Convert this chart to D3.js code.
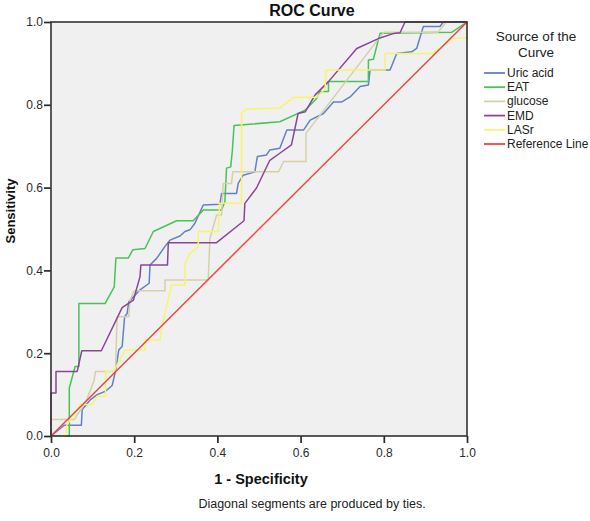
<!DOCTYPE html>
<html><head><meta charset="utf-8">
<script src="https://cdn.jsdelivr.net/npm/d3@7"></script>
<style>body{margin:0;background:#fff;} text{font-family:Arial,"Liberation Sans",sans-serif;}</style>
</head><body><svg id="c" width="590" height="521"></svg>
<script>
// ---- data (1 - specificity, sensitivity) ----
const axisTicks = [0, 0.2, 0.4, 0.6, 0.8, 1.0];
const uricAcid = [[0,0],[0.032,0.026],[0.073,0.026],[0.075,0.064],[0.095,0.088],[0.111,0.100],[0.131,0.108],[0.147,0.122],[0.155,0.156],[0.163,0.208],[0.171,0.216],[0.177,0.288],[0.183,0.296],[0.187,0.324],[0.214,0.353],[0.236,0.369],[0.238,0.413],[0.254,0.429],[0.274,0.458],[0.286,0.473],[0.310,0.483],[0.322,0.494],[0.334,0.498],[0.346,0.514],[0.366,0.558],[0.406,0.560],[0.410,0.586],[0.446,0.586],[0.450,0.610],[0.462,0.630],[0.490,0.638],[0.496,0.675],[0.518,0.679],[0.526,0.691],[0.550,0.695],[0.567,0.739],[0.607,0.739],[0.623,0.763],[0.655,0.779],[0.679,0.807],[0.699,0.807],[0.719,0.819],[0.743,0.844],[0.763,0.848],[0.767,0.884],[0.815,0.884],[0.831,0.924],[0.867,0.928],[0.879,0.936],[0.895,0.989],[0.935,0.989],[0.943,1],[1,1]];
const eat = [[0,0],[0.044,0],[0.044,0.116],[0.058,0.168],[0.067,0.168],[0.067,0.320],[0.130,0.320],[0.152,0.360],[0.156,0.430],[0.186,0.430],[0.197,0.450],[0.226,0.453],[0.246,0.494],[0.302,0.520],[0.342,0.520],[0.366,0.546],[0.410,0.546],[0.418,0.566],[0.422,0.647],[0.432,0.650],[0.436,0.690],[0.440,0.750],[0.550,0.759],[0.611,0.787],[0.639,0.816],[0.647,0.832],[0.667,0.832],[0.667,0.856],[0.763,0.856],[0.763,0.908],[0.775,0.910],[0.791,0.973],[0.963,0.975],[1,1]];
const glucose = [[0,0],[0,0.040],[0.056,0.040],[0.083,0.080],[0.103,0.132],[0.107,0.156],[0.155,0.156],[0.159,0.288],[0.187,0.288],[0.190,0.328],[0.200,0.351],[0.274,0.351],[0.274,0.377],[0.378,0.377],[0.382,0.477],[0.398,0.534],[0.410,0.534],[0.414,0.610],[0.434,0.610],[0.437,0.638],[0.547,0.638],[0.559,0.663],[0.613,0.663],[0.613,0.731],[0.791,0.964],[0.800,0.975],[0.930,0.975],[0.950,1],[1,1]];
const emd = [[0,0],[0,0.104],[0.012,0.104],[0.012,0.156],[0.063,0.156],[0.074,0.206],[0.121,0.206],[0.171,0.310],[0.198,0.328],[0.214,0.385],[0.216,0.413],[0.280,0.413],[0.282,0.467],[0.398,0.467],[0.464,0.520],[0.466,0.562],[0.494,0.599],[0.526,0.666],[0.550,0.683],[0.578,0.703],[0.594,0.779],[0.611,0.783],[0.635,0.824],[0.667,0.856],[0.735,0.936],[0.787,0.960],[0.823,0.972],[0.839,0.974],[0.851,1],[1,1]];
const lasr = [[0,0],[0.037,0],[0.037,0.024],[0.071,0.076],[0.099,0.076],[0.111,0.096],[0.131,0.096],[0.131,0.156],[0.150,0.156],[0.179,0.208],[0.226,0.208],[0.226,0.232],[0.262,0.232],[0.266,0.264],[0.290,0.365],[0.322,0.365],[0.322,0.417],[0.334,0.441],[0.354,0.457],[0.354,0.494],[0.402,0.494],[0.405,0.562],[0.458,0.562],[0.458,0.780],[0.470,0.790],[0.550,0.792],[0.583,0.818],[0.639,0.818],[0.659,0.839],[0.661,0.884],[0.803,0.884],[0.803,0.924],[0.919,0.924],[0.966,0.961],[1,0.961],[1,1]];
const referenceLine = [[0,0],[1,1]];
const seriesNames = ["Uric acid","EAT","glucose","EMD","LASr","Reference Line"];
const seriesColors = ["#6080c8","#46c456","#d6d0a6","#8c449a","#f8f46a","#ef4545"];
const seriesData = [uricAcid, eat, glucose, emd, lasr, referenceLine];

// ---- drawing ----
const svg = d3.select("#c");
svg.append("rect").attr("width",590).attr("height",521).attr("fill","#fff");
const L=51, R=467, T=22, B=436;
const x = d3.scaleLinear().domain([0,1]).range([L,R]);
const y = d3.scaleLinear().domain([0,1]).range([B,T]);

svg.append("rect").attr("x",L).attr("y",T).attr("width",R-L).attr("height",B-T).attr("fill","#f0f0f0");

const fmt = d3.format(".1f");
const gx = svg.append("g").attr("transform",`translate(0,${B})`)
  .call(d3.axisBottom(x).tickValues(axisTicks).tickFormat(fmt).tickSize(7).tickSizeOuter(0).tickPadding(5));
const gy = svg.append("g").attr("transform",`translate(${L},0)`)
  .call(d3.axisLeft(y).tickValues(axisTicks).tickFormat(fmt).tickSize(7).tickSizeOuter(0).tickPadding(1));
[gx,gy].forEach(g=>{
  g.select(".domain").remove();
  g.selectAll(".tick line").attr("stroke","#2a2a2a").attr("stroke-width",1.7);
  g.selectAll(".tick text").attr("fill","#2a2a2a").style("font-size","12px").style("font-family","Arial, 'Liberation Sans', sans-serif");
});

const line = d3.line().x(d=>x(d[0])).y(d=>y(d[1]));
seriesData.forEach((s,i)=>{
  svg.append("path").datum(s).attr("d",line).attr("fill","none")
    .attr("stroke",seriesColors[i]).attr("stroke-width",1.5).attr("stroke-linejoin","round");
});

svg.append("rect").attr("x",L).attr("y",T).attr("width",R-L).attr("height",B-T)
  .attr("fill","none").attr("stroke","#333").attr("stroke-width",1.6);

// titles
svg.append("text").attr("x",312).attr("y",16).attr("text-anchor","middle")
  .style("font-size","16px").style("font-weight","bold").attr("fill","#111").text("ROC Curve");
svg.append("text").attr("x",261).attr("y",484).attr("text-anchor","middle")
  .style("font-size","14.5px").style("font-weight","bold").attr("fill","#111").text("1 - Specificity");
svg.append("text").attr("transform","translate(15,211) rotate(-90)").attr("text-anchor","middle")
  .style("font-size","13px").style("font-weight","bold").attr("fill","#111").text("Sensitivity");
svg.append("text").attr("x",312).attr("y",508).attr("text-anchor","middle")
  .style("font-size","12.5px").attr("fill","#222").text("Diagonal segments are produced by ties.");

// legend
const lg = svg.append("g");
lg.append("text").attr("x",536).attr("y",41).attr("text-anchor","middle").style("font-size","13.5px").attr("fill","#222").text("Source of the");
lg.append("text").attr("x",536).attr("y",57).attr("text-anchor","middle").style("font-size","13.5px").attr("fill","#222").text("Curve");
seriesNames.forEach((n,i)=>{
  const yy = 73 + i*14.2;
  lg.append("line").attr("x1",484).attr("x2",505).attr("y1",yy).attr("y2",yy)
    .attr("stroke",seriesColors[i]).attr("stroke-width",1.8);
  lg.append("text").attr("x",507).attr("y",yy+4).style("font-size","12px").attr("fill","#222").text(n);
});
</script></body></html>
